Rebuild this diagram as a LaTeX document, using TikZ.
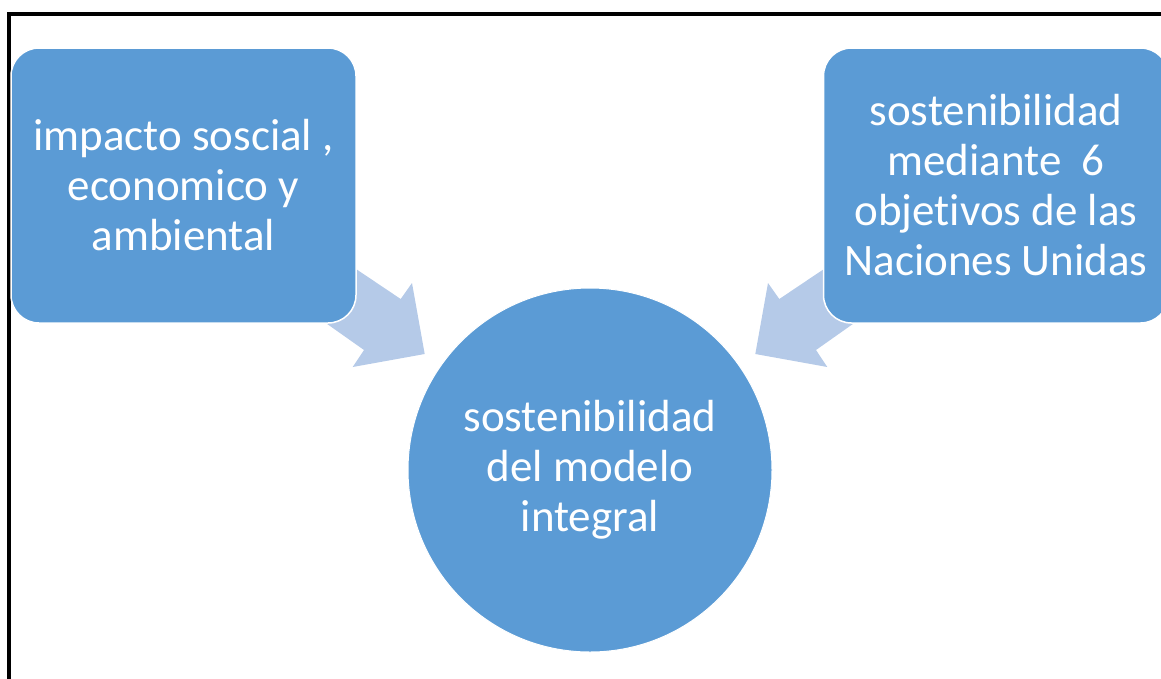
\documentclass[tikz,border=0pt]{standalone}
\usepackage{fontspec}
\setmainfont{Carlito}[Ligatures=NoCommon]
\definecolor{boxblue}{RGB}{91,155,213}
\definecolor{arrowblue}{RGB}{181,202,232}
\begin{document}
\begin{tikzpicture}[x=1pt,y=-1pt,
  box/.style={draw=white, line width=1.5pt, fill=boxblue, rounded corners=28pt,
    minimum width=345pt, minimum height=275pt, inner sep=0pt, align=center,
    text=white, font=\fontsize{45}{50}\selectfont},
  hub/.style={circle, fill=boxblue, draw=white, line width=1pt, minimum size=364pt,
    inner sep=0pt, align=center, text=white, font=\fontsize{45}{50}\selectfont},
  blockarrow/.style={fill=arrowblue, draw=none}]
\useasboundingbox (0,0) rectangle (1161,678);
% frame
\draw[line width=4pt] (9,700) -- (9,14) -- (1200,14);
% arrows (behind boxes)
\fill[blockarrow] (317.3,243) -- (400.7,299) -- (412,283) -- (424.7,354)
  -- (352.7,367) -- (364,350) -- (296,302) -- cycle;
\fill[blockarrow] (862.7,243) -- (779.3,299) -- (768,283) -- (755.3,354)
  -- (827.3,367) -- (816,350) -- (884,302) -- cycle;
% nodes
\node[box] (impacto) at (183.5,185.5) {impacto soscial ,\\economico y\\ambiental};
\node[box] (objetivos) at (996,185.5) {sostenibilidad\\mediante\ \ 6\\objetivos de las\\Naciones Unidas};
\node[hub] (modelo) at (590,470) {sostenibilidad\\del modelo\\integral};
\end{tikzpicture}
\end{document}
